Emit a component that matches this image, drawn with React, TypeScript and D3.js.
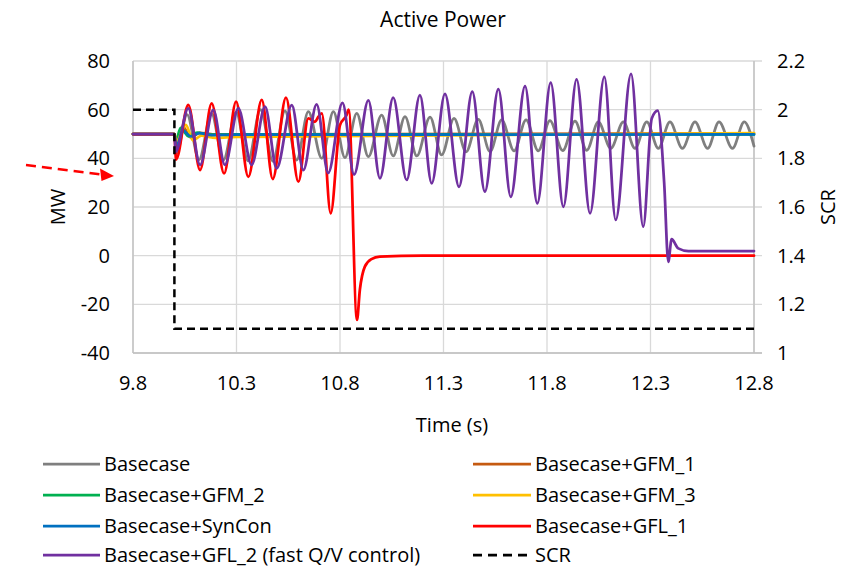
import React from "react";
import * as d3 from "d3";

// ---- data (time s, MW) ----
const xTicks = [9.8, 10.3, 10.8, 11.3, 11.8, 12.3, 12.8];
const yLeftTicks = [-40, -20, 0, 20, 40, 60, 80];
const yRightTicks = [1, 1.2, 1.4, 1.6, 1.8, 2, 2.2];

const basecase: [number, number][] = [
  [9.8, 50], [10.0, 50], [10.01, 42], [10.061, 58], [10.119, 39.5], [10.179, 58.5], [10.237, 39.3],
  [10.298, 59], [10.356, 39], [10.416, 60], [10.476, 38.8], [10.534, 59.5], [10.591, 39.3],
  [10.647, 59.2], [10.712, 40], [10.768, 59.2], [10.824, 40.3], [10.881, 58.5], [10.937, 40.7],
  [11.001, 57.8], [11.057, 41], [11.114, 57.1], [11.171, 41], [11.235, 56.9], [11.291, 41.4],
  [11.351, 56.4], [11.409, 42.7], [11.468, 56], [11.525, 42.8], [11.581, 55.8], [11.641, 43.1],
  [11.699, 55.8], [11.758, 43.1], [11.814, 55.5], [11.876, 43.2], [11.935, 55.3], [11.992, 43.3],
  [12.048, 55], [12.108, 44.1], [12.169, 55], [12.225, 44.1], [12.282, 55], [12.338, 44.1],
  [12.394, 55], [12.454, 44.1], [12.515, 55], [12.576, 44.1], [12.631, 55], [12.696, 44.1],
  [12.753, 55], [12.8, 45],
];
const gfm1: [number, number][] = [
  [9.8, 50], [10.0, 50], [10.01, 46], [10.04, 53], [10.08, 48.5], [10.12, 50.5], [10.2, 49.8], [12.8, 50.3],
];
const gfm2: [number, number][] = [
  [9.8, 50], [10.0, 50], [10.007, 47], [10.03, 52.5], [10.07, 49], [10.11, 50.6], [10.16, 49.7], [10.3, 49.8], [12.8, 49.8],
];
const gfm3: [number, number][] = [
  [9.8, 50], [10.0, 50], [10.01, 47], [10.055, 53.8], [10.09, 47.4], [10.13, 49.3], [10.2, 48.4], [10.3, 48.8],
  [11.0, 49.2], [12.8, 50.4],
];
const synCon: [number, number][] = [
  [9.8, 50], [10.0, 50], [10.01, 44.8], [10.04, 51.5], [10.08, 49], [10.12, 50.4], [10.18, 49.5], [10.3, 49.7], [12.8, 49.8],
];
const gfl1: [number, number][] = [
  [9.8, 50], [10.0, 50], [10.008, 39.5], [10.067, 62], [10.124, 35.2], [10.18, 62.6], [10.24, 33.8],
  [10.298, 63.3], [10.357, 32.4], [10.422, 64], [10.475, 31.5], [10.539, 65], [10.599, 30.4],
  [10.647, 56.4], [10.679, 55], [10.695, 57], [10.712, 58.5], [10.755, 17.4], [10.8, 53.7],
  [10.832, 57.8], [10.842, 60], [10.882, -26.4], [10.896, -14], [10.92, -4.5], [10.952, -1.4],
  [10.992, -0.4], [11.2, 0], [12.8, 0],
];
const gfl2: [number, number][] = [
  [9.8, 50], [10.0, 50], [10.006, 42.7], [10.067, 60.5], [10.124, 37.3], [10.188, 59.9], [10.244, 37.3],
  [10.309, 60.5], [10.373, 37.3], [10.438, 61.2], [10.494, 35.9], [10.567, 61.9], [10.623, 35.2],
  [10.687, 62.2], [10.743, 34], [10.812, 62.8], [10.868, 33.3], [10.937, 63.8], [10.993, 31.8],
  [11.057, 64.9], [11.122, 31.1], [11.186, 66], [11.243, 29.7], [11.307, 66.5], [11.375, 28.3],
  [11.439, 67.4], [11.5, 26.3], [11.565, 68.4], [11.625, 24.2], [11.694, 69.7], [11.753, 21.5],
  [11.818, 71.1], [11.879, 20.1], [11.943, 72.5], [12.008, 17.4], [12.077, 73.5], [12.132, 14.7],
  [12.206, 74.7], [12.265, 11.9], [12.306, 56.4], [12.335, 59.6], [12.366, 30], [12.386, -2.5],
  [12.402, 6.8], [12.434, 3], [12.483, 1.9], [12.8, 1.9],
];
const scr: [number, number][] = [
  [9.8, 2.0], [10.0, 2.0], [10.0, 1.1], [12.8, 1.1],
];

const seriesNames = [
  "Basecase", "Basecase+GFM_1", "Basecase+GFM_2", "Basecase+GFM_3",
  "Basecase+SynCon", "Basecase+GFL_1", "Basecase+GFL_2 (fast Q/V control)", "SCR",
];
const seriesColors = ["#7f7f7f", "#c55a11", "#00b050", "#ffc000", "#0070c0", "#ff0000", "#7030a0", "#000000"];
const mwSeries = [basecase, gfm1, gfm2, gfm3, synCon, gfl1, gfl2];

const FONT = "'Open Sans', sans-serif";

export default function App() {
  const W = 843, H = 568;
  const left = 133, right = 754, top = 61, bottom = 353;
  const x = d3.scaleLinear().domain([9.8, 12.8]).range([left, right]);
  const yL = d3.scaleLinear().domain([-40, 80]).range([bottom, top]);
  const yR = d3.scaleLinear().domain([1, 2.2]).range([bottom, top]);

  const lineL = d3.line<[number, number]>().x(d => x(d[0])).y(d => yL(d[1])).curve(d3.curveMonotoneX);
  const lineR = d3.line<[number, number]>().x(d => x(d[0])).y(d => yR(d[1]));

  const grid = "#d9d9d9";
  const textColor = "#000";
  const cy = (top + bottom) / 2;
  const fs = 20;

  const legendRows = [464, 495, 526, 555];
  const legendCols = [{ x1: 43, x2: 100, tx: 104 }, { x1: 473, x2: 531, tx: 535 }];

  return (
    <svg width={W} height={H} style={{ position: "absolute", left: 0, top: 0, background: "#fff" }} fontFamily={FONT}>
      <rect x={0} y={0} width={W} height={H} fill="#fff" />
      <text x={443} y={27} textAnchor="middle" fontSize={21} fill={textColor}>Active Power</text>

      {/* gridlines */}
      {yLeftTicks.map(v => (
        <line key={"gy" + v} x1={left} x2={right + 8} y1={yL(v)} y2={yL(v)} stroke={grid} strokeWidth={1.3} />
      ))}
      {xTicks.map(v => (
        <line key={"gx" + v} x1={x(v)} x2={x(v)} y1={top} y2={bottom} stroke={grid} strokeWidth={1.3} />
      ))}
      <line x1={left} x2={left} y1={top} y2={bottom} stroke="#bfbfbf" strokeWidth={1.3} />
      <line x1={right} x2={right} y1={top} y2={bottom} stroke="#bfbfbf" strokeWidth={1.3} />
      <line x1={left} x2={right + 8} y1={bottom} y2={bottom} stroke="#bfbfbf" strokeWidth={1.3} />

      {/* series */}
      {mwSeries.map((s, i) => (
        <path key={"s" + i} d={lineL(s) || ""} fill="none" stroke={seriesColors[i]} strokeWidth={2.75}
          strokeLinejoin="round" strokeLinecap="round" />
      ))}
      <path d={lineR(scr) || ""} fill="none" stroke="#000" strokeWidth={2.5} strokeDasharray="8 5" />

      {/* axis labels */}
      {yLeftTicks.map(v => (
        <text key={"yl" + v} x={110} y={yL(v)} dy="0.35em" textAnchor="end" fontSize={fs} fill={textColor}>{v}</text>
      ))}
      {yRightTicks.map(v => (
        <text key={"yr" + v} x={777} y={yR(v)} dy="0.35em" textAnchor="start" fontSize={fs} fill={textColor}>{d3.format("~g")(v)}</text>
      ))}
      {xTicks.map(v => (
        <text key={"xt" + v} x={x(v)} y={383} dy="0.35em" textAnchor="middle" fontSize={fs} fill={textColor}>{v.toFixed(1)}</text>
      ))}
      <text x={452} y={425} dy="0.35em" textAnchor="middle" fontSize={fs} fill={textColor}>Time (s)</text>
      <text transform={`translate(58,${cy}) rotate(-90)`} dy="0.35em" textAnchor="middle" fontSize={fs} fill={textColor}>MW</text>
      <text transform={`translate(828,${cy}) rotate(-90)`} dy="0.35em" textAnchor="middle" fontSize={fs} fill={textColor}>SCR</text>

      {/* red annotation arrow */}
      <line x1={26} y1={165} x2={101} y2={174.5} stroke="#ff0000" strokeWidth={2.5} strokeDasharray="10 6" />
      <path d="M114,176 L100,168.5 L101.5,181 Z" fill="#ff0000" />

      {/* legend */}
      {seriesNames.map((n, i) => {
        const col = legendCols[i % 2];
        const yy = legendRows[Math.floor(i / 2)];
        const isScr = i === 7;
        return (
          <g key={"lg" + i}>
            <line x1={col.x1} x2={col.x2} y1={yy} y2={yy} stroke={seriesColors[i]} strokeWidth={2.75}
              strokeDasharray={isScr ? "9 6" : undefined} />
            <text x={col.tx} y={yy} dy="0.35em" fontSize={fs} fill={textColor}>{n}</text>
          </g>
        );
      })}
    </svg>
  );
}
